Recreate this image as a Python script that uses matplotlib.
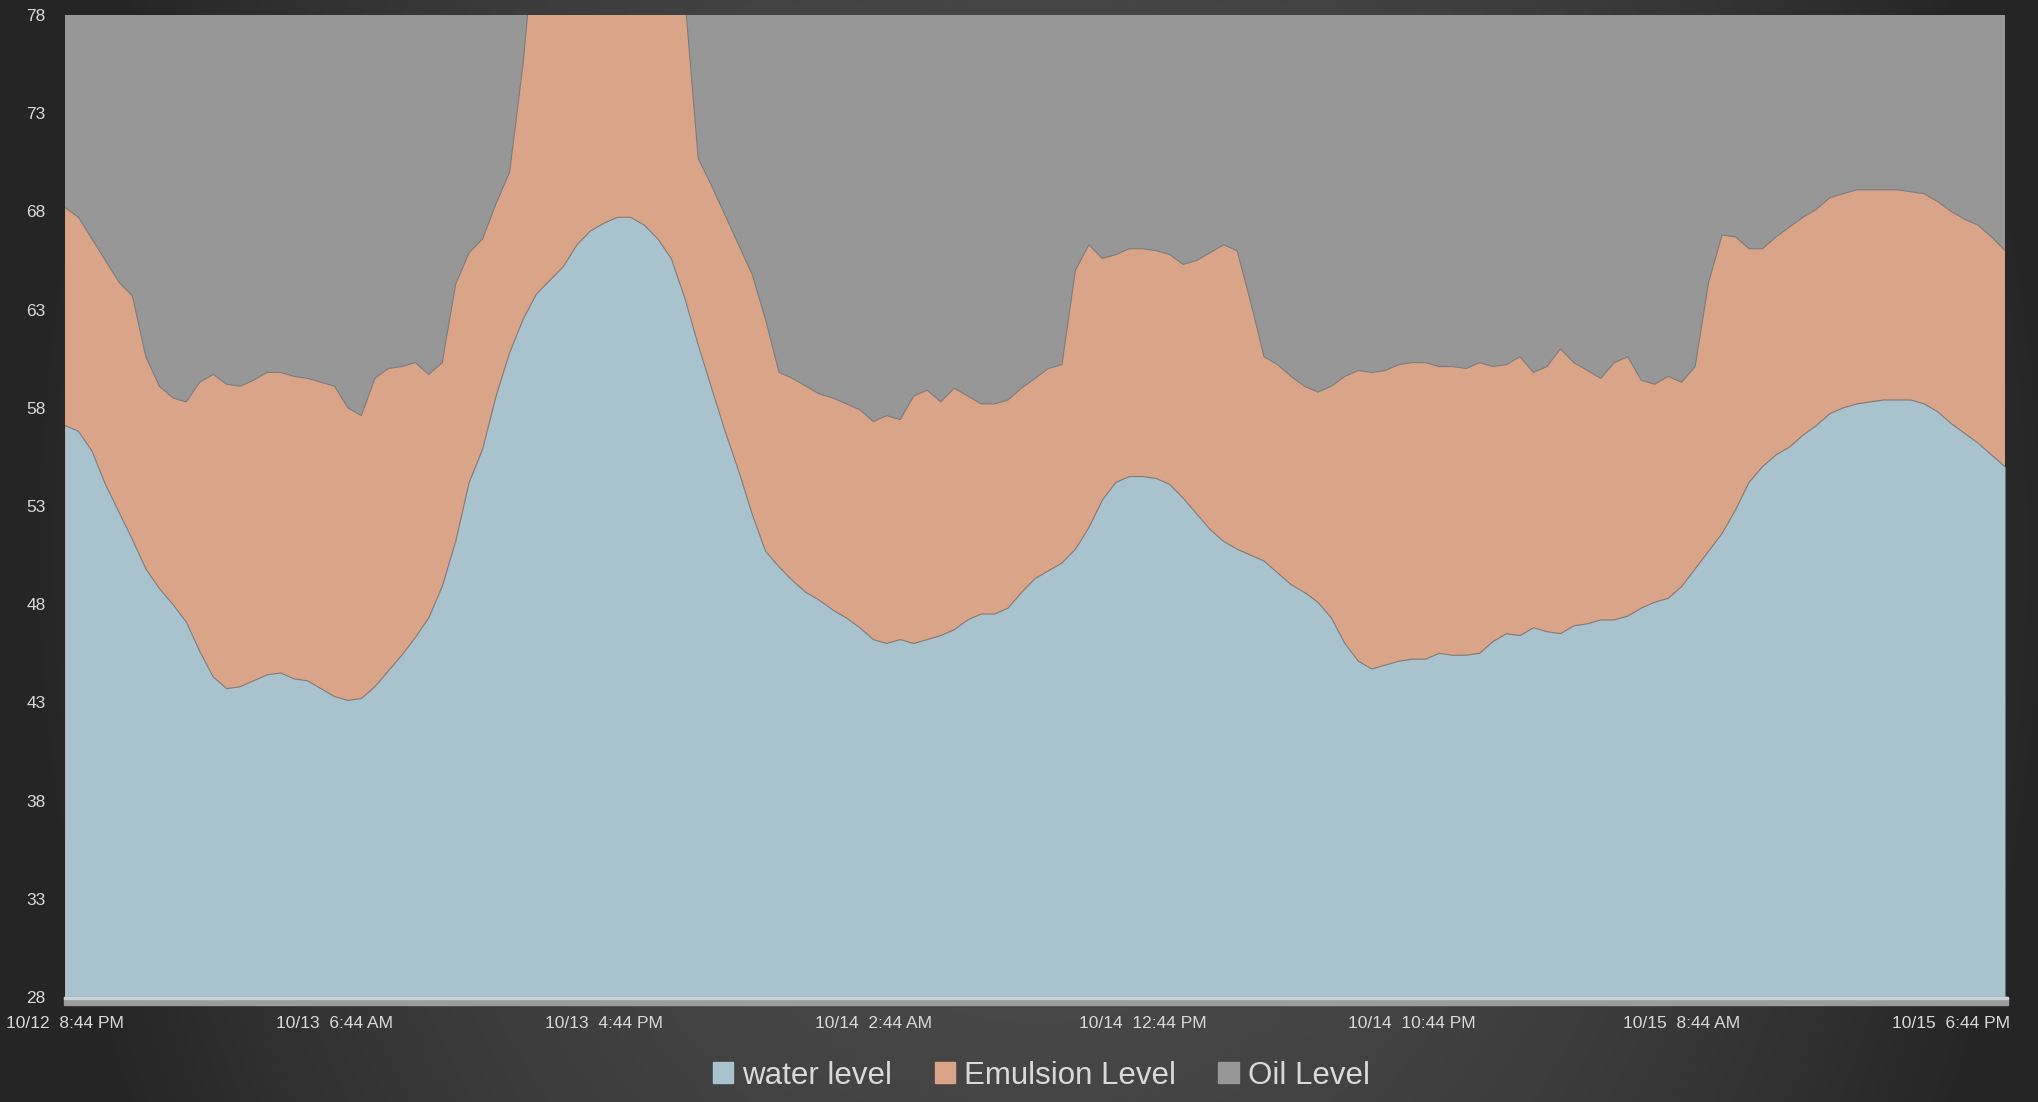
import numpy as np
import matplotlib
matplotlib.use("Agg")
import matplotlib.pyplot as plt
from matplotlib.patches import Patch, Rectangle
from datetime import datetime, timedelta

# tank levels logged every 30 minutes
start = datetime(2015, 10, 12, 20, 44)
step_minutes = 30

water_level = [
    57.1, 56.8, 55.8, 54.1, 52.7, 51.3, 49.8, 48.8, 48.0, 47.1,
    45.6, 44.3, 43.7, 43.8, 44.1, 44.4, 44.5, 44.2, 44.1, 43.7,
    43.3, 43.1, 43.2, 43.8, 44.6, 45.4, 46.3, 47.3, 48.9, 51.2,
    54.2, 55.9, 58.6, 60.8, 62.5, 63.8, 64.5, 65.2, 66.3, 67.0,
    67.4, 67.7, 67.7, 67.3, 66.6, 65.6, 63.6, 61.2, 59.0, 56.8,
    54.8, 52.6, 50.7, 49.9, 49.2, 48.6, 48.2, 47.7, 47.3, 46.8,
    46.2, 46.0, 46.2, 46.0, 46.2, 46.4, 46.7, 47.2, 47.5, 47.5,
    47.8, 48.6, 49.3, 49.7, 50.1, 50.8, 51.9, 53.3, 54.2, 54.5,
    54.5, 54.4, 54.1, 53.4, 52.6, 51.8, 51.2, 50.8, 50.5, 50.2,
    49.6, 49.0, 48.6, 48.1, 47.3, 46.0, 45.1, 44.7, 44.9, 45.1,
    45.2, 45.2, 45.5, 45.4, 45.4, 45.5, 46.1, 46.5, 46.4, 46.8,
    46.6, 46.5, 46.9, 47.0, 47.2, 47.2, 47.4, 47.8, 48.1, 48.3,
    48.9, 49.8, 50.7, 51.6, 52.8, 54.2, 55.0, 55.6, 56.0, 56.6,
    57.1, 57.7, 58.0, 58.2, 58.3, 58.4, 58.4, 58.4, 58.2, 57.8,
    57.2, 56.7, 56.2, 55.6, 55.0,
]

emulsion_level = [
    68.2, 67.7, 66.6, 65.5, 64.4, 63.7, 60.6, 59.1, 58.5, 58.3,
    59.3, 59.7, 59.2, 59.1, 59.4, 59.8, 59.8, 59.6, 59.5, 59.3,
    59.1, 58.0, 57.6, 59.5, 60.0, 60.1, 60.3, 59.7, 60.3, 64.3,
    65.9, 66.6, 68.4, 70.0, 75.5, 83.0, 83.5, 84.0, 84.5, 85.0,
    85.0, 84.5, 84.0, 83.5, 83.0, 82.0, 79.0, 70.7, 69.3, 67.8,
    66.3, 64.8, 62.5, 59.8, 59.5, 59.1, 58.7, 58.5, 58.2, 57.9,
    57.3, 57.6, 57.4, 58.6, 58.9, 58.3, 59.0, 58.6, 58.2, 58.2,
    58.4, 59.0, 59.5, 60.0, 60.2, 65.0, 66.3, 65.6, 65.8, 66.1,
    66.1, 66.0, 65.8, 65.3, 65.5, 65.9, 66.3, 66.0, 63.4, 60.6,
    60.2, 59.6, 59.1, 58.8, 59.1, 59.6, 59.9, 59.8, 59.9, 60.2,
    60.3, 60.3, 60.1, 60.1, 60.0, 60.3, 60.1, 60.2, 60.6, 59.8,
    60.1, 61.0, 60.3, 59.9, 59.5, 60.3, 60.6, 59.4, 59.2, 59.6,
    59.3, 60.1, 64.4, 66.8, 66.7, 66.1, 66.1, 66.7, 67.2, 67.7,
    68.1, 68.7, 68.9, 69.1, 69.1, 69.1, 69.1, 69.0, 68.9, 68.5,
    68.0, 67.6, 67.3, 66.7, 66.0,
]

# oil level stays above the top of the gauge for the whole run
oil_hours = [0, 72]
oil_level = [90.0, 90.0]

y_ticks = [28, 33, 38, 43, 48, 53, 58, 63, 68, 73, 78]
tick_every_hours = 10

times = [start + timedelta(minutes=step_minutes * i) for i in range(len(water_level))]
oil_times = [start + timedelta(hours=h) for h in oil_hours]
end = start + timedelta(hours=72)

water_c = "#a8c3ce"
emul_c = "#daa489"
oil_c = "#979797"
edge_c = "#7c7c7c"
text_c = "#d9d9d9"

plt.rcParams["font.family"] = ["Liberation Sans", "DejaVu Sans"]

W, H = 2038, 1102
fig = plt.figure(figsize=(W / 100, H / 100), dpi=100)

# dark radial backdrop
bg = fig.add_axes([0, 0, 1, 1], zorder=-10)
yy, xx = np.mgrid[0:H, 0:W]
r = np.sqrt(((xx - 1040) / 1000.0) ** 2 + ((yy - 551) / 1300.0) ** 2)
shade = (76 - 38 * np.clip(r, 0, 1) ** 2) / 255.0
bg.imshow(np.dstack([shade, shade, shade]), aspect="auto", extent=[0, 1, 0, 1])
bg.set_axis_off()

left, right = 65 / W, 2005 / W
bottom, top = 1 - 997 / H, 1 - 15 / H
ax = fig.add_axes([left, bottom, right - left, top - bottom])

ax.fill_between(oil_times, 28, oil_level, color=oil_c, linewidth=0)
ax.fill_between(times, 28, emulsion_level, color=emul_c, linewidth=0)
ax.plot(times, emulsion_level, color=edge_c, lw=0.8)
ax.fill_between(times, 28, water_level, color=water_c, linewidth=0)
ax.plot(times, water_level, color=edge_c, lw=0.8)

ax.set_xlim(start, end)
ax.set_ylim(28, 78)
ax.set_yticks(y_ticks)
ax.set_yticklabels([str(v) for v in y_ticks])

xt = [start + timedelta(hours=tick_every_hours * k) for k in range(8)]


def stamp(d):
    hr = d.hour % 12 or 12
    ampm = "AM" if d.hour < 12 else "PM"
    return f"{d.month}/{d.day}  {hr}:{d.minute:02d} {ampm}"


ax.set_xticks(xt)
ax.set_xticklabels([stamp(d) for d in xt])
ax.tick_params(axis="both", length=0, colors=text_c, labelsize=12.5)
ax.tick_params(axis="y", pad=14)
ax.tick_params(axis="x", pad=14)
for s in ax.spines.values():
    s.set_visible(False)

# floor strip under the plot area
fig.patches.append(Rectangle((left - 1 / W, 1 - 1005 / H), right - left + 4 / W, 8 / H,
                             transform=fig.transFigure, color="#9c9c9c", zorder=5))
fig.patches.append(Rectangle((left - 1 / W, 1 - 999 / H), right - left + 4 / W, 2 / H,
                             transform=fig.transFigure, color="#c9d3d6", zorder=6))

handles = [Patch(color=water_c, label="water level"),
           Patch(color=emul_c, label="Emulsion Level"),
           Patch(color=oil_c, label="Oil Level")]
leg = fig.legend(handles=handles, loc="center", bbox_to_anchor=(0.511, 0.024), ncol=3,
                 frameon=False, fontsize=22.5, handlelength=0.65, handleheight=0.65,
                 handletextpad=0.3, columnspacing=1.35)
for t in leg.get_texts():
    t.set_color(text_c)

fig.savefig("out.png", dpi=100)
